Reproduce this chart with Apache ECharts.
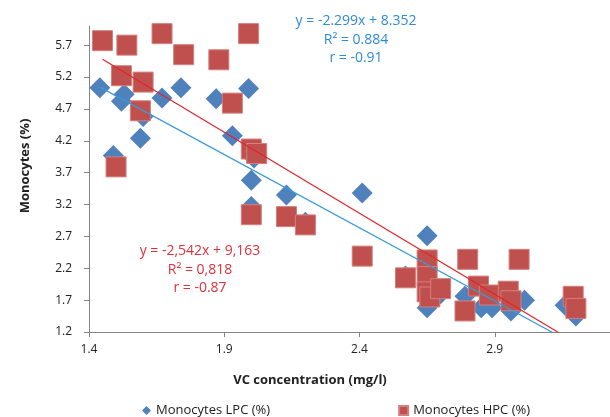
<!DOCTYPE html>
<html>
<head>
<meta charset="utf-8">
<title>Monocytes vs VC</title>
<script src="https://cdn.jsdelivr.net/npm/echarts@6/dist/echarts.min.js"></script>
<style>
  html, body { margin: 0; padding: 0; background: #fff; }
  #chart1 { width: 610px; height: 417px; }
</style>
</head>
<body>
<div id="chart1"></div>
<script type="text/javascript">
// LPC (blue diamonds)
var lpcX = [1.44, 1.49, 1.52, 1.53, 1.59, 1.60, 1.67, 1.74, 1.87, 1.93, 1.99, 2.01, 2.00, 2.00,
            2.13, 2.20, 2.41, 2.57, 2.65, 2.65, 2.70, 2.79, 2.85, 2.89, 2.96, 3.01, 3.16, 3.20];
var lpcY = [5.03, 3.97, 4.82, 4.93, 4.24, 4.58, 4.87, 5.03, 4.86, 4.28, 5.02, 3.93, 3.58, 3.17,
            3.35, 2.92, 3.38, 2.08, 2.71, 1.58, 1.80, 1.76, 1.58, 1.58, 1.53, 1.70, 1.62, 1.45];
// HPC (red squares)
var hpcX = [1.45, 1.50, 1.52, 1.54, 1.59, 1.60, 1.67, 1.75, 1.88, 1.93, 1.99, 2.00, 2.02, 2.00,
            2.13, 2.20, 2.41, 2.57, 2.65, 2.65, 2.65, 2.66, 2.70, 2.79, 2.80, 2.84, 2.88, 2.95,
            2.96, 2.99, 3.19, 3.20];
var hpcY = [5.77, 3.79, 5.22, 5.70, 4.67, 5.12, 5.88, 5.55, 5.47, 4.79, 5.88, 4.07, 4.00, 3.04,
            3.01, 2.88, 2.39, 2.05, 2.33, 2.07, 1.83, 1.75, 1.88, 1.53, 2.34, 1.92, 1.78, 1.84,
            1.69, 2.34, 1.76, 1.57];
// trend line equations
var lpcFit = { slope: -2.299, icpt: 8.352 };
var hpcFit = { slope: -2.542, icpt: 9.163 };
var lpcText = ['y = -2.299x + 8.352', 'R² = 0.884', 'r = -0.91'];
var hpcText = ['y = -2,542x + 9,163', 'R² = 0,818', 'r = -0.87'];
var seriesNames = ['Monocytes LPC (%)', 'Monocytes HPC (%)'];
var xTitle = 'VC concentration (mg/l)';
var yTitle = 'Monocytes (%)';

var FONT = 'Open Sans';
var blue = '#4F81BD', red = '#C0504D';

function pairs(xs, ys) {
    return xs.map(function (x, i) { return [x, ys[i]]; });
}
function fitLine(xs, fit) {
    var x0 = Math.min.apply(null, xs), x1 = Math.max.apply(null, xs);
    return [[x0, fit.slope * x0 + fit.icpt], [x1, fit.slope * x1 + fit.icpt]];
}

var myChart = echarts.init(document.getElementById('chart1'));
var option = {
    animation: false,
    textStyle: { fontFamily: FONT },
    grid: { left: 89, top: 26, bottom: 85, right: -20, outerBoundsMode: 'none', containLabel: false },
    legend: {
        top: 399,
        left: 137,
        itemGap: 128,
        itemWidth: 9,
        itemHeight: 9,
        textStyle: { fontFamily: FONT, fontSize: 13, color: '#222' },
        data: [
            { name: seriesNames[0], icon: 'diamond' },
            { name: seriesNames[1], icon: 'rect' }
        ]
    },
    xAxis: {
        type: 'value',
        min: 1.4, max: 3.4, interval: 0.5,
        axisLine: { lineStyle: { color: '#868686' } },
        axisTick: { show: true, length: 5, lineStyle: { color: '#868686' } },
        axisLabel: { fontSize: 12, color: '#222', margin: 12, showMaxLabel: false,
                     formatter: function (v) { return v.toFixed(1); } },
        splitLine: { show: false }
    },
    yAxis: {
        type: 'value',
        min: 1.2, max: 6.0, interval: 0.5,
        axisLine: { show: true, lineStyle: { color: '#868686' } },
        axisTick: { show: true, length: 5, lineStyle: { color: '#868686' } },
        axisLabel: { fontSize: 12, color: '#222', margin: 17, showMaxLabel: false,
                     formatter: function (v) { return v.toFixed(1); } },
        splitLine: { show: false }
    },
    series: [
        {
            name: seriesNames[0], type: 'scatter', symbol: 'diamond', symbolSize: 21, z: 2,
            itemStyle: { color: blue, opacity: 1 },
            data: pairs(lpcX, lpcY)
        },
        {
            name: seriesNames[1], type: 'scatter', symbol: 'rect', symbolSize: 20, z: 3,
            itemStyle: { color: red, borderColor: '#d3807e', borderWidth: 1, opacity: 1 },
            data: pairs(hpcX, hpcY)
        },
        {
            name: 'lpcTrend', type: 'line', symbol: 'none', z: 4, clip: true, silent: true,
            lineStyle: { color: '#3A9AD9', width: 1.2 },
            data: fitLine(lpcX, lpcFit)
        },
        {
            name: 'hpcTrend', type: 'line', symbol: 'none', z: 5, clip: true, silent: true,
            lineStyle: { color: '#E0242C', width: 1.2 },
            data: fitLine(hpcX, hpcFit)
        }
    ],
    graphic: [
        {
            type: 'text', x: 356, y: 12, z: 10,
            style: { text: lpcText.join('\n'), fill: '#2E8BD8', font: '14px "Open Sans"', lineHeight: 18.5, align: 'center' }
        },
        {
            type: 'text', x: 200, y: 242, z: 10,
            style: { text: hpcText.join('\n'), fill: '#E0303A', font: '14px "Open Sans"', lineHeight: 18.5, align: 'center' }
        },
        {
            type: 'text', x: 310, y: 380, z: 10,
            style: { text: xTitle, fill: '#222', font: 'bold 13px "Open Sans"', align: 'center', verticalAlign: 'middle' }
        },
        {
            type: 'text', x: 25, y: 166, rotation: Math.PI / 2, z: 10,
            style: { text: yTitle, fill: '#222', font: 'bold 13px "Open Sans"', align: 'center', verticalAlign: 'middle' }
        }
    ]
};
myChart.setOption(option);
</script>
</body>
</html>
